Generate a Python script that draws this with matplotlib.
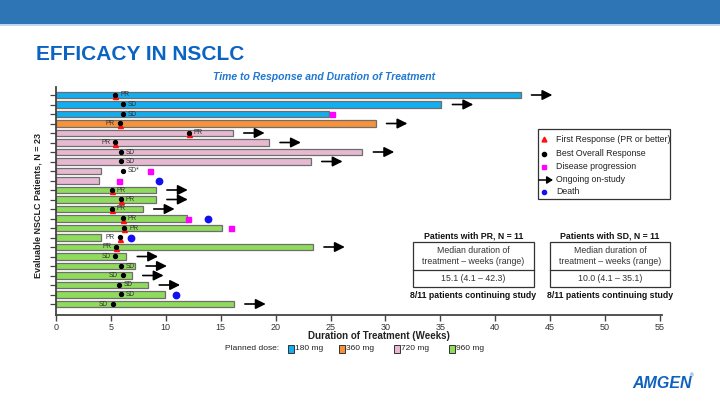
import matplotlib
matplotlib.use("Agg")
import matplotlib.pyplot as plt
from matplotlib.patches import Rectangle, FancyArrowPatch
from matplotlib.lines import Line2D

plt.rcParams['font.family'] = ['Liberation Sans', 'DejaVu Sans']

# ---------------- data ----------------
patients = list(range(1, 24))
dose_mg = [180, 180, 180, 360, 720, 720, 720, 720, 720, 720,
           960, 960, 960, 960, 960, 960, 960, 960, 960, 960, 960, 960, 960]
duration_weeks = [42.3, 35.1, 24.9, 29.1, 16.1, 19.4, 27.9, 23.2, 4.1, 3.9,
                  9.1, 9.1, 7.9, 11.9, 15.1, 4.1, 23.4, 6.4, 7.2, 6.9, 8.4, 9.9, 16.2]
best_response = ['PR', 'SD', 'SD', 'PR', 'PR', 'PR', 'SD', 'SD', 'SD*', None,
                 'PR', 'PR', 'PR', 'PR', 'PR', 'PR', 'PR', 'SD', 'SD', 'SD', 'SD', 'SD', 'SD']
response_week = [5.4, 6.1, 6.1, 5.8, 12.1, 5.4, 5.9, 5.9, 6.1, None,
                 5.1, 5.9, 5.1, 6.1, 6.2, 5.8, 5.5, 5.4, 5.9, 6.1, 5.7, 5.9, 5.15]
progression_week = [None, None, 25.1, None, None, None, None, None, 8.6, 5.75,
                    None, None, None, 12.05, 15.9, None, None, None, None, None, None, None, None]
death_week = [None, None, None, None, None, None, None, None, None, 9.4,
              None, None, None, 13.8, None, 6.8, None, None, None, None, None, 10.9, None]
ongoing = [True, True, False, True, True, True, True, True, False, False,
           True, True, True, False, False, False, True, True, True, True, True, False, True]

dose_levels = [180, 360, 720, 960]
dose_labels = ['180 mg', '360 mg', '720 mg', '960 mg']
x_ticks = [0, 5, 10, 15, 20, 25, 30, 35, 40, 45, 50, 55]

legend_labels = ['First Response (PR or better)', 'Best Overall Response',
                 'Disease progression', 'Ongoing on-study', 'Death']

pr_summary = ['Patients with PR, N = 11', 'Median duration of', 'treatment \u2013 weeks (range)',
              '15.1 (4.1 \u2013 42.3)', '8/11 patients continuing study']
sd_summary = ['Patients with SD, N = 11', 'Median duration of', 'treatment \u2013 weeks (range)',
              '10.0 (4.1 \u2013 35.1)', '8/11 patients continuing study']

# ---------------- styles ----------------
dose_colors = {180: '#12AEEF', 360: '#F7923A', 720: '#E7B9D1', 960: '#8FDB5C'}
label_left = [False, False, False, True, False, True, False, False, False, False,
              False, False, False, False, False, True, True, True, False, True, False, False, True]

W, H = 720, 405
fig = plt.figure(figsize=(7.2, 4.05), dpi=100)


def fx(px):
    return px / W


def fy(py):
    return 1 - py / H


# banner
fig.add_artist(Rectangle((0, fy(24)), 1, 24 / H, transform=fig.transFigure,
                         color='#2E75B6', lw=0))
fig.add_artist(Rectangle((0, fy(26)), 1, 2 / H, transform=fig.transFigure,
                         color='#BDD7EE', lw=0))
fig.text(fx(36), fy(54), 'EFFICACY IN NSCLC', fontsize=15, fontweight='bold',
         color='#0B63C4', va='center', ha='left')
fig.text(fx(324), fy(77), 'Time to Response and Duration of Treatment', fontsize=7.5,
         fontweight='bold', style='italic', color='#1F78D1', ha='center', va='center')

# axes
ax_left, ax_right, ax_top, ax_bot = 56, 662, 87, 315
ax = fig.add_axes([fx(ax_left), fy(ax_bot), (ax_right - ax_left) / W, (ax_bot - ax_top) / H])
xmax = 55 * (ax_right - ax_left) / (660 - 56)
ax.set_xlim(0, xmax)
row_px0, row_step = 95, 9.5
ytop = 1 - (row_px0 - ax_top) / row_step
ybot = 23 + (ax_bot - (row_px0 + 22 * row_step)) / row_step
ax.set_ylim(ybot, ytop)

for i, p in enumerate(patients):
    ax.barh(p, duration_weeks[i], height=0.7, left=0, color=dose_colors[dose_mg[i]],
            edgecolor='#6E6E6E', linewidth=0.9, zorder=2)
    if ongoing[i]:
        ax.annotate('', xy=(duration_weeks[i] + 2.9, p), xytext=(duration_weeks[i] + 1.0, p),
                    arrowprops=dict(arrowstyle='-|>,head_length=0.6,head_width=0.3',
                                    lw=1.2, color='black', shrinkA=0, shrinkB=0), zorder=4)
    if progression_week[i] is not None:
        ax.plot(progression_week[i], p, 's', ms=3.6, color='#FF00FF', mec='#FF00FF', zorder=5)
    if death_week[i] is not None:
        ax.plot(death_week[i], p, 'o', ms=4.6, color='#1010F0', mec='#1010F0', zorder=5)
    if best_response[i] is not None:
        r = response_week[i]
        if best_response[i] == 'PR':
            ax.plot(r, p + 0.14, '^', ms=3.6, color='#FF1010', mec='#FF1010', zorder=5)
        ax.plot(r, p - 0.05, 'o', ms=2.8, color='black', zorder=6)
        if label_left[i]:
            ax.text(r - 0.45, p, best_response[i], fontsize=4.8, color='#333333',
                    ha='right', va='center', zorder=6)
        else:
            ax.text(r + 0.45, p, best_response[i], fontsize=4.8, color='#333333',
                    ha='left', va='center', zorder=6)

ax.set_yticks(patients)
ax.set_yticklabels([])
ax.set_xticks(x_ticks)
ax.set_xticklabels([str(t) for t in x_ticks])
ax.tick_params(axis='x', labelsize=6.5, labelcolor='#333333', length=4, width=1,
               color='#444444', pad=1.5, direction='out')
ax.tick_params(axis='y', length=4, width=0.9, color='#444444', direction='out')
for s in ['top', 'right']:
    ax.spines[s].set_visible(False)
for s in ['left', 'bottom']:
    ax.spines[s].set_color('#444444')
    ax.spines[s].set_linewidth(1.3)

fig.text(fx(38), fy(205), 'Evaluable NSCLC Patients, N = 23', rotation=90, fontsize=6.5,
         fontweight='bold', color='#222222', ha='center', va='center')
fig.text(fx(379), fy(336), 'Duration of Treatment (Weeks)', fontsize=7, fontweight='bold',
         color='#222222', ha='center', va='center')

# dose legend
fig.text(fx(225), fy(349), 'Planned dose:', fontsize=6, color='#222222', ha='left', va='center')
dose_sq_x = [288, 339, 394, 449]
for j, d in enumerate(dose_levels):
    fig.add_artist(Rectangle((fx(dose_sq_x[j]), fy(353)), 5.5 / W, 8 / H,
                             transform=fig.transFigure, facecolor=dose_colors[d],
                             edgecolor='#333333', lw=0.7))
    fig.text(fx(dose_sq_x[j] + 7), fy(349), dose_labels[j], fontsize=6, color='#222222',
             ha='left', va='center')

# marker legend box
fig.add_artist(Rectangle((fx(538), fy(199)), (670 - 538) / W, (199 - 129) / H,
                         transform=fig.transFigure, facecolor='white',
                         edgecolor='#333333', lw=0.9))
leg_y = [139, 153.5, 166.5, 180, 192]
mx = fx(544)
fig.add_artist(Line2D([mx], [fy(leg_y[0])], marker='^', ms=3.5, color='#FF1010', ls='none',
                      transform=fig.transFigure))
fig.add_artist(Line2D([mx], [fy(leg_y[1])], marker='o', ms=3, color='black', ls='none',
                      transform=fig.transFigure))
fig.add_artist(Line2D([mx], [fy(leg_y[2])], marker='s', ms=3, color='#FF00FF', ls='none',
                      transform=fig.transFigure))
fig.add_artist(Line2D([mx], [fy(leg_y[4])], marker='o', ms=3, color='#1010F0', ls='none',
                      transform=fig.transFigure))
fig.add_artist(FancyArrowPatch((fx(539), fy(leg_y[3])), (fx(553), fy(leg_y[3])),
                               transform=fig.transFigure,
                               arrowstyle='-|>,head_length=3.5,head_width=2.2',
                               lw=1.1, color='black', shrinkA=0, shrinkB=0))
for j, lab in enumerate(legend_labels):
    fig.text(fx(556), fy(leg_y[j]), lab, fontsize=6.3, color='#222222', ha='left', va='center')

# summary tables
for (x0, x1, txt) in [(413, 534, pr_summary), (550, 670, sd_summary)]:
    cx = fx((x0 + x1) / 2)
    fig.add_artist(Rectangle((fx(x0), fy(287)), (x1 - x0) / W, (287 - 242) / H,
                             transform=fig.transFigure, facecolor='white',
                             edgecolor='#333333', lw=0.9))
    fig.add_artist(Line2D([fx(x0), fx(x1)], [fy(270), fy(270)], color='#333333', lw=0.9,
                          transform=fig.transFigure))
    fig.text(cx, fy(235.5), txt[0], fontsize=6.3, fontweight='bold', color='#111111',
             ha='center', va='center')
    fig.text(cx, fy(250.5), txt[1], fontsize=6.3, color='#333333', ha='center', va='center')
    fig.text(cx, fy(261.5), txt[2], fontsize=6.3, color='#333333', ha='center', va='center')
    fig.text(cx, fy(278.5), txt[3], fontsize=6.3, color='#333333', ha='center', va='center')
    fig.text(cx, fy(295), txt[4], fontsize=6.3, fontweight='bold', color='#111111',
             ha='center', va='center')

# logo
fig.text(fx(632), fy(383), 'AMGEN', fontsize=11.5, fontweight='bold', style='italic',
         color='#0F62C0', ha='left', va='center')
fig.text(fx(690), fy(376), '\u00ae', fontsize=3.5, color='#0F62C0', ha='left', va='center')

fig.savefig('out.png', dpi=100)
